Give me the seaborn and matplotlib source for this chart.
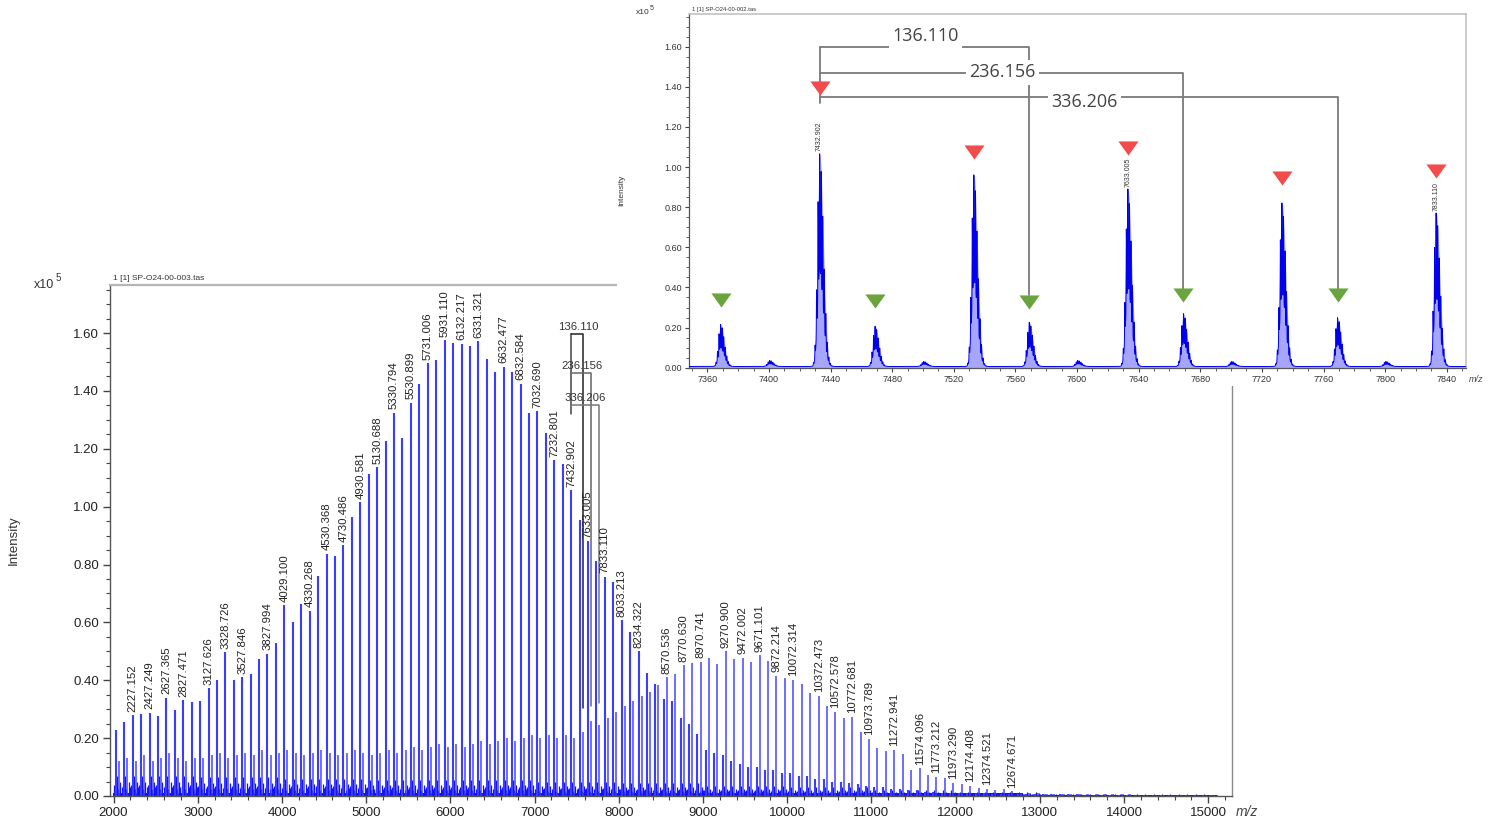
import numpy as np
import pandas as pd
import matplotlib
matplotlib.use("Agg")
import matplotlib.pyplot as plt
from matplotlib.ticker import MultipleLocator, FormatStrFormatter
from matplotlib.path import Path
import seaborn as sns

# ---------------------------------------------------------------- data
# main spectrum, dominant series (m/z) and heights (x10^5)
main_r_mz = [2027, 2127, 2227.152, 2327, 2427.249, 2527, 2627.365, 2727, 2827.471, 2927,
             3027, 3127.626, 3228, 3328.726, 3428, 3527.846, 3628, 3728, 3827.994, 3928,
             4029.100, 4129, 4229, 4330.268, 4430, 4530.368, 4630, 4730.486, 4830, 4930.581,
             5030, 5130.688, 5230, 5330.794, 5431, 5530.899, 5631, 5731.006, 5831, 5931.110,
             6032, 6132.217, 6232, 6331.321, 6432, 6532, 6632.477, 6732, 6832.584, 6933,
             7032.690, 7133, 7232.801, 7333, 7432.902, 7533, 7633.005, 7733, 7833.110, 7933,
             8033.213, 8134, 8234.322, 8334, 8434, 8534, 8634, 8734, 8834, 8934,
             9034, 9134, 9234, 9334, 9434, 9535, 9635, 9735, 9835, 9935,
             10035, 10135, 10235, 10335, 10435, 10535, 10635, 10735, 10835, 10935,
             11035, 11135, 11235, 11335, 11436, 11536, 11636, 11736, 11836, 11936,
             12036, 12136, 12236, 12336, 12436, 12536, 12636, 12736, 12836, 12936,
             13036, 13136, 13236, 13336, 13436, 13537, 13637, 13737, 13837, 13937,
             14037, 14137, 14237, 14337, 14437, 14537, 14637, 14737, 14837, 14937, 15037]
main_r_height = [.227, .256, .280, .282, .288, .276, .340, .298, .331, .325,
                 .327, .372, .400, .497, .400, .411, .420, .475, .492, .529,
                 .659, .603, .665, .640, .759, .837, .831, .867, .964, 1.015,
                 1.114, 1.137, 1.226, 1.325, 1.238, 1.359, 1.423, 1.496, 1.507, 1.576,
                 1.564, 1.563, 1.555, 1.571, 1.510, 1.466, 1.483, 1.466, 1.425, 1.322,
                 1.330, 1.253, 1.160, 1.148, 1.056, .955, .881, .812, .758, .740,
                 .607, .568, .501, .426, .386, .336, .330, .270, .250, .215,
                 .160, .150, .140, .120, .110, .100, .100, .090, .090, .080,
                 .080, .070, .070, .060, .060, .050, .050, .045, .040, .035,
                 .030, .030, .025, .025, .020, .020, .015, .015, .012, .012,
                 .010, .010, .009, .009, .008, .008, .008, .007, .007, .007,
                 .006, .006, .006, .006, .006, .005, .005, .005, .005, .005,
                 .005, .004, .004, .004, .004, .004, .004, .004, .003, .003, .003]
# second series, shifted by 136.110 - 100.05 Da
green_shift = 36.06
main_g_height = [.12, .13, .12, .14, .12, .13, .15, .13, .12, .13,
                 .13, .14, .15, .13, .14, .15, .14, .16, .14, .15,
                 .16, .15, .14, .15, .16, .15, .14, .15, .16, .15,
                 .14, .15, .16, .15, .16, .17, .16, .17, .18, .17,
                 .18, .17, .18, .19, .18, .19, .20, .19, .20, .21,
                 .20, .21, .20, .21, .20, .22, .26, .245, .27, .29,
                 .31, .33, .345, .36, .383, .411, .42, .452, .461, .464,
                 .478, .455, .501, .475, .478, .464, .486, .467, .415, .409,
                 .401, .386, .357, .346, .31, .291, .27, .274, .22, .198,
                 .167, .154, .16, .144, .09, .096, .071, .067, .063, .046,
                 .04, .035, .029, .025, .02, .023, .017, .01, .009, .009,
                 .008, .008, .008, .007, .007, .007, .007, .006, .006, .006,
                 .006, .005, .005, .005, .005, .005, .004, .004, .004, .004, .004]
# low-level background per 1000 Da block, and relative size of the small side peaks
floor_block = [2000, 3000, 4000, 5000, 6000, 7000, 8000, 9000, 10000, 11000, 12000, 13000, 14000, 15000]
floor_level = [.07, .065, .06, .055, .055, .05, .045, .035, .03, .02, .014, .008, .006, .005]
floor_offsets = [-20, 12, 24, 52, 68, 84]
floor_frac = [0.55, 1.0, 0.35, 0.7, 0.45, 0.3]
band_block = [1990, 12800, 15100]
band_level = [0.010, 0.004, 0.004]

main_labels = ["2227.152", "2427.249", "2627.365", "2827.471", "3127.626", "3328.726", "3527.846",
               "3827.994", "4029.100", "4330.268", "4530.368", "4730.486", "4930.581", "5130.688",
               "5330.794", "5530.899", "5731.006", "5931.110", "6132.217", "6331.321", "6632.477",
               "6832.584", "7032.690", "7232.801", "7432.902", "7633.005", "7833.110", "8033.213",
               "8234.322", "8570.536", "8770.630", "8970.741", "9270.900", "9472.002", "9671.101",
               "9872.214", "10072.314", "10372.473", "10572.578", "10772.681", "10973.789",
               "11272.941", "11574.096", "11773.212", "11973.290", "12174.408", "12374.521",
               "12674.671"]

# mass differences (bracket annotations)
diff_labels = ["136.110", "236.156", "336.206"]
diff_start = 7432.902
diff_end = [7569.01, 7669.06, 7769.11]

# inset (zoomed) spectrum
inset_peak_mz = [7368.6, 7400.5, 7432.9, 7468.9, 7500.5, 7533.0, 7569.0, 7600.5,
                 7633.0, 7669.1, 7700.5, 7733.0, 7769.1, 7800.5, 7833.1]
inset_peak_h = [0.21, 0.03, 1.06, 0.20, 0.025, 0.955, 0.22, 0.03,
                0.885, 0.263, 0.025, 0.815, 0.243, 0.025, 0.765]
inset_baseline = 0.006
inset_labels = ["7432.902", "7633.005", "7833.110"]
red_mz = [7432.9, 7533.0, 7633.0, 7733.0, 7833.1]
red_y = [1.393, 1.074, 1.095, 0.946, 0.981]
green_mz = [7368.6, 7468.9, 7569.0, 7669.1, 7769.1]
green_y = [0.337, 0.334, 0.329, 0.364, 0.364]

# ---------------------------------------------------------------- style
sns.set_theme(style="ticks")
plt.rcParams['font.family'] = ['Liberation Sans', 'DejaVu Sans']

W, H = 1497, 823
fig = plt.figure(figsize=(W / 100, H / 100), dpi=100)


def box(x0, y0, x1, y1):
    return [x0 / W, 1 - y1 / H, (x1 - x0) / W, (y1 - y0) / H]


BLUE = '#3c3cff'
DARK = '#1414f0'

# ---------------------------------------------------------------- main axes
ax = fig.add_axes(box(110, 285, 1232, 796))
ax.set_zorder(1)
ax.set_facecolor('white')

r_mz = np.array(main_r_mz, dtype=float)
r_h = np.array(main_r_height)
g_mz = r_mz + green_shift
g_h = np.array(main_g_height)
blk = np.clip(np.searchsorted(floor_block, r_mz, side='right') - 1, 0, len(floor_level) - 1)
f_h = np.array(floor_level)[blk]

ax.fill_between(band_block, 0, band_level, step='post', color=DARK, lw=0, zorder=1.5)
for off, frac in zip(floor_offsets, floor_frac):
    ax.vlines(r_mz + off, 0, f_h * frac, color=DARK, lw=0.9, zorder=2)
ax.vlines(g_mz, 0, g_h, color=BLUE, lw=1.3, alpha=0.8, zorder=3)
ax.vlines(r_mz, 0, r_h, color=BLUE, lw=1.5, zorder=4)

all_mz = np.concatenate([r_mz, g_mz])
all_h = np.concatenate([r_h, g_h])
for lab in main_labels:
    m = float(lab)
    h = all_h[np.argmin(np.abs(all_mz - m))]
    ax.text(m, h + 0.012, lab, rotation=90, ha='center', va='bottom',
            fontsize=8.2, color='#222222', zorder=6)

# bracket annotations on the main chart
main_levels = [1.597, 1.463, 1.350]
main_bottoms = [0.304, 0.31, 0.32]
main_colors = ['#222222', '#666666', '#777777']
main_lab_xy = [(7514, 1.62), (7565, 1.487), (7601, 1.375)]
ax.plot([diff_start, diff_start], [main_levels[0], 1.32], color='#444444', lw=1.1, zorder=5)
for i in range(3):
    ax.plot([diff_start, diff_end[i], diff_end[i]],
            [main_levels[i], main_levels[i], main_bottoms[i]],
            color=main_colors[i], lw=1.1, zorder=5)
    ax.text(main_lab_xy[i][0], main_lab_xy[i][1], diff_labels[i], ha='center', va='center',
            fontsize=8.2, color='#333333', zorder=7)

ax.set_xlim(1958, 15281)
ax.set_ylim(0, 1.766)
ax.set_xticks(range(2000, 15001, 1000))
ax.xaxis.set_minor_locator(MultipleLocator(200))
ax.set_yticks(np.arange(0, 1.61, 0.2))
ax.yaxis.set_minor_locator(MultipleLocator(0.05))
ax.yaxis.set_major_formatter(FormatStrFormatter('%.2f'))
ax.tick_params(which='major', direction='out', length=5, width=1, color='#444444',
               labelsize=9.5, labelcolor='#222222', pad=3)
ax.tick_params(which='minor', direction='out', length=3, width=0.8, color='#444444')
ax.tick_params(top=False, right=False, which='both')
for s in ['left', 'bottom']:
    ax.spines[s].set_color('#555555')
    ax.spines[s].set_linewidth(1)
ax.spines['top'].set_color('#b5b5b5')
ax.spines['top'].set_linewidth(1.6)
ax.spines['right'].set_color('#8a8a8a')
ax.spines['right'].set_linewidth(1)

fig.text(34 / W, 1 - 285 / H, 'x10', fontsize=9, color='#333333', va='center')
fig.text(55.5 / W, 1 - 278 / H, '5', fontsize=7, color='#333333', va='center')
fig.text(113 / W, 1 - 278 / H, '1 [1] SP-O24-00-003.tas', fontsize=6, color='#333333', va='center')
fig.text(14 / W, 1 - 540 / H, 'Intensity', rotation=90, fontsize=9.5, color='#333333',
         ha='center', va='center')
fig.text(1236 / W, 1 - 812 / H, 'm/z', fontsize=10, style='italic', color='#444444', va='center')

# ---------------------------------------------------------------- white cover behind inset
cover = fig.add_axes(box(617, 0, 1497, 386))
cover.set_zorder(2)
cover.set_facecolor('white')
cover.set_xticks([])
cover.set_yticks([])
for s in cover.spines.values():
    s.set_visible(False)

# ---------------------------------------------------------------- inset axes
axin = fig.add_axes(box(689, 14, 1466, 367.7))
axin.set_zorder(3)
axin.set_facecolor('white')

grid = np.arange(7348.0, 7853.0, 0.1)
env_total = np.full_like(grid, inset_baseline)
prof = np.full_like(grid, inset_baseline)
for c, h in zip(inset_peak_mz, inset_peak_h):
    d = grid - c
    sig = np.where(d < 0, 1.4, 2.4)
    env = h * np.exp(-0.5 * (d / sig) ** 2)
    env_total += env
    prof += env * (0.45 + 0.55 * np.cos(np.pi * d) ** 6)

axin.fill_between(grid, 0, env_total, color='#8080ff', alpha=0.7, lw=0, zorder=2)
df = pd.DataFrame({'mz': grid, 'intensity': prof})
sns.lineplot(data=df, x='mz', y='intensity', ax=axin, color='#0000ee', lw=0.7,
             estimator=None, zorder=3)
axin.set_xlabel('')
axin.set_ylabel('')

ins_mz = np.array(inset_peak_mz)
ins_h = np.array(inset_peak_h)
for lab in inset_labels:
    m = float(lab)
    h = ins_h[np.argmin(np.abs(ins_mz - m))]
    axin.text(m, h + 0.018, lab, rotation=90, ha='center', va='bottom', fontsize=5,
              color='#333333', zorder=6)

# brackets
in_levels = [1.599, 1.468, 1.349]
in_bottom = [0.36, 0.39, 0.39]
in_lab_xy = [(7501.4, 1.652), (7551.4, 1.472), (7604.6, 1.322)]
LINE = '#7a7a7a'
axin.plot([diff_start, diff_start], [in_levels[0], 1.318], color=LINE, lw=1.3, zorder=4)
for i in range(3):
    axin.plot([diff_start, diff_end[i], diff_end[i]],
              [in_levels[i], in_levels[i], in_bottom[i]], color=LINE, lw=1.3, zorder=4)
for i in range(3):
    axin.text(in_lab_xy[i][0], in_lab_xy[i][1], diff_labels[i], ha='center', va='center',
              fontsize=13, color='#444444', family=['Open Sans', 'DejaVu Sans'], zorder=8,
              bbox=dict(facecolor='white', edgecolor='none', pad=2.5))

tri = Path([(-1, 0.7), (1, 0.7), (0, -0.7), (-1, 0.7)],
           [Path.MOVETO, Path.LINETO, Path.LINETO, Path.CLOSEPOLY])
axin.scatter(red_mz, red_y, marker=tri, s=210, color='#f14b4b', linewidths=0, zorder=9)
axin.scatter(green_mz, green_y, marker=tri, s=210, color='#6aa43c', linewidths=0, zorder=9)

axin.set_xlim(7348.1, 7852.5)
axin.set_ylim(0, 1.763)
axin.set_xticks(range(7360, 7841, 40))
axin.xaxis.set_minor_locator(MultipleLocator(10))
axin.set_yticks(np.arange(0, 1.61, 0.2))
axin.yaxis.set_minor_locator(MultipleLocator(0.05))
axin.yaxis.set_major_formatter(FormatStrFormatter('%.2f'))
axin.tick_params(which='major', direction='out', length=3, width=0.8, color='#444444',
                 labelsize=6.5, labelcolor='#333333', pad=2)
axin.tick_params(which='minor', direction='out', length=2, width=0.6, color='#444444')
axin.tick_params(top=False, right=False, which='both')
for s in ['left', 'bottom']:
    axin.spines[s].set_color('#555555')
    axin.spines[s].set_linewidth(0.9)
for s in ['top', 'right']:
    axin.spines[s].set_color('#bdbdbd')
    axin.spines[s].set_linewidth(1.1)

fig.text(636 / W, 1 - 13 / H, 'x10', fontsize=6, color='#333333', va='center', zorder=10)
fig.text(650 / W, 1 - 8 / H, '5', fontsize=5, color='#333333', va='center', zorder=10)
fig.text(692 / W, 1 - 9 / H, '1 [1] SP-O24-00-002.tas', fontsize=4.2, color='#333333',
         va='center', zorder=10)
fig.text(622 / W, 1 - 190 / H, 'Intensity', rotation=90, fontsize=6, color='#333333',
         ha='center', va='center', zorder=10)
fig.text(1469 / W, 1 - 380 / H, 'm/z', fontsize=6.5, style='italic', color='#444444',
         va='center', zorder=10)

fig.savefig('out.png', dpi=100)
